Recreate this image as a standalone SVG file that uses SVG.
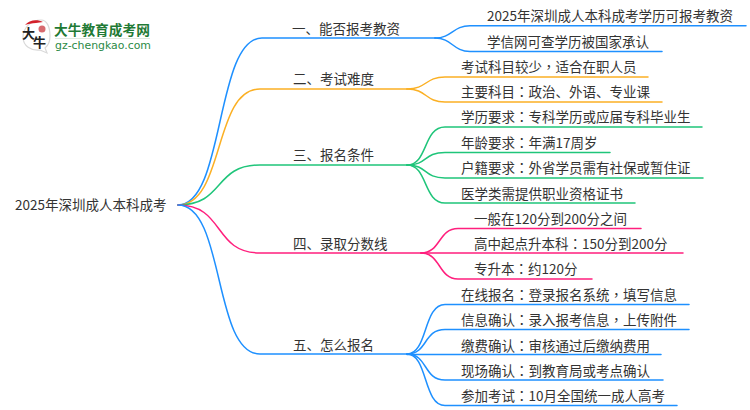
<svg xmlns="http://www.w3.org/2000/svg" width="750" height="410" viewBox="0 0 750 410">
<style>
text{font-family:"Noto Sans CJK SC","Noto Sans",sans-serif;font-size:13.5px;fill:#333}
tspan{font-family:"Noto Sans CJK TC","Noto Sans",sans-serif}
.c{fill:none;stroke-width:1.5;stroke-linecap:round}
.b{stroke:#1e90ff}.o{stroke:#fbb024}.g{stroke:#1fc57a}.p{stroke:#ff1f7d}
</style>
<rect width="750" height="410" fill="#fff"/>
<g id="connectors">
<path class="c b" d="M178 205C225 205 215 38 262 38H435"/>
<path class="c o" d="M178 205C225 205 213 89 260 89H407"/>
<path class="c g" d="M178 205C225 205 213 165 260 165H407"/>
<path class="c p" d="M178 205C225 205 213 253 260 253H421"/>
<path class="c b" d="M178 205C225 205 213 354 260 354H407"/>
<path class="c b" d="M435 38C452 38 453 25.700 470 25.700H746"/>
<path class="c b" d="M435 38C452 38 453 51.500 470 51.500H662"/>
<path class="c o" d="M407 89C427 89 425 77 445 77H648"/>
<path class="c o" d="M407 89C427 89 425 102 445 102H662"/>
<path class="c g" d="M407 165C428 165 423 127 445 127H702"/>
<path class="c g" d="M407 165C428 165 423 152.500 445 152.500H610"/>
<path class="c g" d="M407 165C428 165 423 178 445 178H703"/>
<path class="c g" d="M407 165C428 165 423 203 445 203H635"/>
<path class="c p" d="M421 253C441 253 438 228.500 458 228.500H641"/>
<path class="c p" d="M421 253H683"/>
<path class="c p" d="M421 253C441 253 438 279 458 279H592"/>
<path class="c b" d="M407 354C428 354 423 304.500 445 304.500H689"/>
<path class="c b" d="M407 354C428 354 423 329.500 445 329.500H689"/>
<path class="c b" d="M407 354.500H661"/>
<path class="c b" d="M407 354C428 354 423 380 445 380H663"/>
<path class="c b" d="M407 354C428 354 423 405.500 445 405.500H677"/>
</g>
<g id="logo">
<path d="M41 20C31 20 23 28 23 37C23 46 31 51 40 50L47 53L45 48C49 45 50 41 50 36C50 27 47 20 41 20Z" fill="#fff" stroke="#d9d9d9" stroke-width="1.200"/>
<path d="M25 25C29 20 37 19 43 22L36 23C32 23 28 24 25 25Z" fill="#d3202a"/>
<circle cx="42" cy="29" r="3.500" fill="#d76a6f"/>
<text x="22" y="38" style="font-size:13px;font-weight:700;fill:#222">大</text>
<text x="33" y="47" style="font-size:13px;font-weight:700;fill:#222">牛</text>
<text x="54" y="35" style="font-size:13.700px;font-weight:700;fill:#1f7a35">大牛教育成考网</text>
<rect x="55" y="38" width="95" height="1" fill="#dfe9e0"/>
<text x="55" y="49" style="font-size:10.900px;fill:#2b8a46;font-family:'DejaVu Sans',sans-serif">gz-chengkao.com</text>
</g>
<g id="root"><text x="15" y="210">2025年深圳成人本科成考</text></g>
<g id="n1"><text x="292" y="34">一、能否报考教资</text></g>
<g id="n2"><text x="293" y="84">二、考试难度</text></g>
<g id="n3"><text x="293" y="160">三、报名条件</text></g>
<g id="n4"><text x="293" y="249">四、录取分数线</text></g>
<g id="n5"><text x="293" y="350">五、怎么报名</text></g>
<g id="n1a"><text x="487" y="21">2025年深圳成人本科成考学历可报考教资</text></g>
<g id="n1b"><text x="487" y="47">学信网可查学历被国家承认</text></g>
<g id="n2a"><text x="461" y="72">考试科目较少<tspan>，</tspan>适合在职人员</text></g>
<g id="n2b"><text x="461" y="97">主要科目<tspan>：</tspan>政治、外语、专业课</text></g>
<g id="n3a"><text x="461" y="122">学历要求<tspan>：</tspan>专科学历或应届专科毕业生</text></g>
<g id="n3b"><text x="461" y="148">年龄要求<tspan>：</tspan>年满17周岁</text></g>
<g id="n3c"><text x="461" y="173">户籍要求<tspan>：</tspan>外省学员需有社保或暂住证</text></g>
<g id="n3d"><text x="461" y="199">医学类需提供职业资格证书</text></g>
<g id="n4a"><text x="474" y="224">一般在120分到200分之间</text></g>
<g id="n4b"><text x="474" y="249">高中起点升本科<tspan>：</tspan>150分到200分</text></g>
<g id="n4c"><text x="474" y="274">专升本<tspan>：</tspan>约120分</text></g>
<g id="n5a"><text x="461" y="300">在线报名<tspan>：</tspan>登录报名系统<tspan>，</tspan>填写信息</text></g>
<g id="n5b"><text x="461" y="325">信息确认<tspan>：</tspan>录入报考信息<tspan>，</tspan>上传附件</text></g>
<g id="n5c"><text x="461" y="351">缴费确认<tspan>：</tspan>审核通过后缴纳费用</text></g>
<g id="n5d"><text x="461" y="376">现场确认<tspan>：</tspan>到教育局或考点确认</text></g>
<g id="n5e"><text x="461" y="401">参加考试<tspan>：</tspan>10月全国统一成人高考</text></g>
</svg>
